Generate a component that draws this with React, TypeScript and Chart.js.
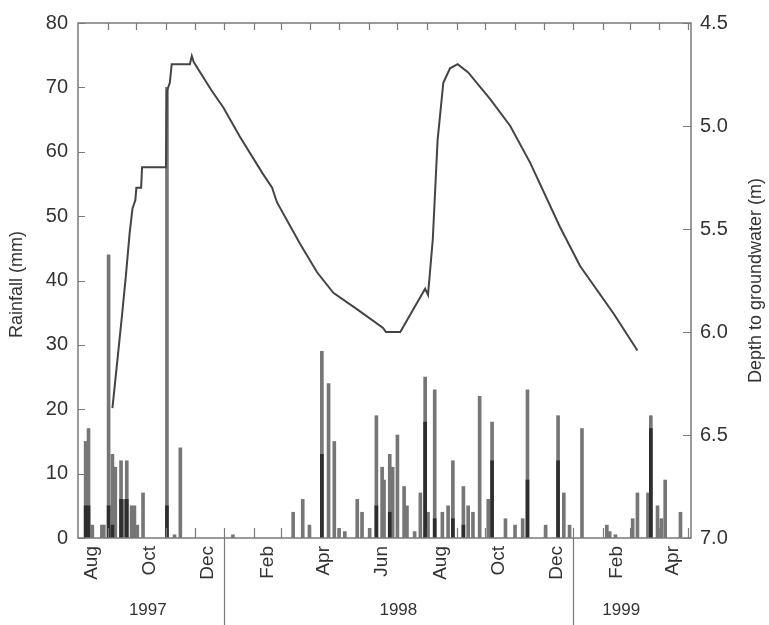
import React, { useEffect, useRef } from 'react';
import { Chart, registerables } from 'chart.js';

Chart.register(...registerables);

// ---- axis range & labels ----
const START = '1997-08-01';
const END = '1999-05-04';

const monthLabels = ['Aug', 'Oct', 'Dec', 'Feb', 'Apr', 'Jun', 'Aug', 'Oct', 'Dec', 'Feb', 'Apr'];
const monthLabelDates = [
  '1997-08-15', '1997-10-15', '1997-12-15', '1998-02-15', '1998-04-15', '1998-06-15',
  '1998-08-15', '1998-10-15', '1998-12-15', '1999-02-15', '1999-04-15',
];
const yearLabels = ['1997', '1998', '1999'];
const yearLabelDates = ['1997-10-13', '1998-07-02', '1999-02-20'];
const yearBreakDates = ['1998-01-01', '1999-01-01'];

// ---- daily rainfall (mm) ----
const rainDates = [
  '1997-08-09', '1997-08-12', '1997-08-16', '1997-08-26', '1997-08-28', '1997-09-02', '1997-09-06',
  '1997-09-09', '1997-09-15', '1997-09-18', '1997-09-21', '1997-09-26', '1997-09-29', '1997-10-02',
  '1997-10-08', '1997-11-02', '1997-11-10', '1997-11-16', '1998-01-10', '1998-03-14', '1998-03-24',
  '1998-03-31', '1998-04-13', '1998-04-20', '1998-04-26', '1998-05-01', '1998-05-07', '1998-05-20',
  '1998-05-25', '1998-06-02', '1998-06-09', '1998-06-15', '1998-06-17', '1998-06-23', '1998-06-26',
  '1998-07-01', '1998-07-08', '1998-07-11', '1998-07-19', '1998-07-25', '1998-07-30', '1998-08-02',
  '1998-08-09', '1998-08-17', '1998-08-23', '1998-08-28', '1998-09-08', '1998-09-13', '1998-09-18',
  '1998-09-25', '1998-10-04', '1998-10-08', '1998-10-22', '1998-11-01', '1998-11-09', '1998-11-14',
  '1998-12-03', '1998-12-16', '1998-12-22', '1998-12-28', '1999-01-10', '1999-02-05', '1999-02-08',
  '1999-02-14', '1999-03-04', '1999-03-09', '1999-03-20', '1999-03-23', '1999-03-30', '1999-04-03',
  '1999-04-07', '1999-04-23',
];
const rainMm = [
  15, 17, 2, 2, 2, 44, 13,
  11, 12, 6, 12, 5, 5, 2,
  7, 70, 0.5, 14, 0.5, 4, 6,
  2, 29, 24, 15, 1.5, 1, 6,
  4, 1.5, 19, 11, 9, 13, 11,
  16, 8, 5, 1, 7, 25, 4,
  23, 4, 5, 12, 8, 5, 4,
  22, 6, 18, 3, 2, 3, 23,
  2, 19, 7, 2, 17, 2, 1,
  0.5, 3, 7, 7, 19, 5, 3,
  9, 4,
];

// darker lower part of the rainfall bars
const rainDarkDates = [
  '1997-08-09', '1997-08-12', '1997-09-02', '1997-09-06', '1997-09-15', '1997-09-21', '1997-11-02',
  '1998-04-13', '1998-06-09', '1998-06-23', '1998-07-30', '1998-08-09', '1998-08-28', '1998-09-08',
  '1998-10-08', '1998-11-14', '1998-12-16', '1999-03-23',
];
const rainDarkMm = [
  5, 5, 5, 2, 6, 6, 5,
  13, 5, 4, 18, 3, 3, 2,
  12, 9, 12, 17,
];

// ---- depth to groundwater (m) ----
const depthDates = [
  '1997-09-06', '1997-09-16', '1997-09-20', '1997-09-24', '1997-09-27', '1997-09-30', '1997-10-01',
  '1997-10-06', '1997-10-07', '1997-11-01', '1997-11-02', '1997-11-05', '1997-11-07', '1997-11-26',
  '1997-11-28', '1997-11-30', '1997-12-19', '1997-12-31', '1998-01-17', '1998-02-10', '1998-02-20',
  '1998-02-25', '1998-03-21', '1998-04-08', '1998-04-25', '1998-05-20', '1998-06-16', '1998-06-19',
  '1998-07-04', '1998-07-30', '1998-08-02', '1998-08-07', '1998-08-12', '1998-08-18', '1998-08-25',
  '1998-09-02', '1998-09-13', '1998-10-06', '1998-10-27', '1998-11-17', '1998-12-18', '1999-01-08',
  '1999-02-12', '1999-03-09',
];
const depthM = [
  6.37, 5.92, 5.73, 5.52, 5.40, 5.36, 5.30,
  5.30, 5.20, 5.20, 4.83, 4.79, 4.70, 4.70,
  4.66, 4.69, 4.83, 4.91, 5.05, 5.23, 5.30,
  5.37, 5.57, 5.71, 5.81, 5.89, 5.98, 6.00,
  6.00, 5.79, 5.82, 5.55, 5.07, 4.79, 4.72,
  4.70, 4.74, 4.87, 5.00, 5.18, 5.49, 5.68,
  5.91, 6.09,
];

const FONT = "'Liberation Sans', Arial, Helvetica, sans-serif";
const TEXT = '#333333';
const AXIS = '#7a7a7a';

const ms = (s: string) => Date.parse(s.length === 10 ? s + 'T00:00:00Z' : s + 'Z');
const toDay = (s: string) => (ms(s) - ms(START)) / 86400000;

function monthStarts(): number[] {
  const out: number[] = [];
  const s = ms(START);
  const e = ms(END);
  for (let k = 1; k < 40; k++) {
    const t = Date.UTC(1997, 7 + k, 1);
    if (t >= e) break;
    if (t > s) out.push((t - s) / 86400000);
  }
  return out;
}

const decorPlugin = {
  id: 'decor',
  afterDatasetsDraw(chart: any) {
    const { ctx, chartArea, scales } = chart;
    const { left, right, top, bottom } = chartArea;
    const x = scales.x;
    const yR = scales.yRain;
    const yD = scales.yDepth;
    ctx.save();
    ctx.strokeStyle = AXIS;
    ctx.lineWidth = 1.5;
    ctx.strokeRect(left, top, right - left, bottom - top);

    ctx.lineWidth = 1.2;
    ctx.beginPath();
    for (const d of monthStarts()) {
      const px = Math.round(x.getPixelForValue(d)) + 0.5;
      ctx.moveTo(px, top);
      ctx.lineTo(px, top + 7);
      ctx.moveTo(px, bottom);
      ctx.lineTo(px, bottom - 10);
    }
    for (const t of yR.ticks) {
      const py = Math.round(yR.getPixelForValue(t.value)) + 0.5;
      ctx.moveTo(left, py);
      ctx.lineTo(left + 7, py);
    }
    for (const t of yD.ticks) {
      const py = Math.round(yD.getPixelForValue(t.value)) + 0.5;
      ctx.moveTo(right, py);
      ctx.lineTo(right - 8, py);
    }
    for (const d of yearBreakDates) {
      const px = Math.round(x.getPixelForValue(toDay(d))) + 0.5;
      ctx.moveTo(px, bottom);
      ctx.lineTo(px, chart.height);
    }
    ctx.stroke();

    ctx.fillStyle = TEXT;
    ctx.font = `17px ${FONT}`;
    ctx.textAlign = 'center';
    ctx.textBaseline = 'middle';
    yearLabels.forEach((lab, i) => {
      ctx.fillText(lab, x.getPixelForValue(toDay(yearLabelDates[i])), 610);
    });

    ctx.font = `18px ${FONT}`;
    const midY = (top + bottom) / 2;
    ctx.save();
    ctx.translate(17, midY + 4);
    ctx.rotate(-Math.PI / 2);
    ctx.fillText('Rainfall (mm)', 0, 0);
    ctx.restore();
    ctx.save();
    ctx.translate(756, midY);
    ctx.rotate(-Math.PI / 2);
    ctx.fillText('Depth to groundwater (m)', 0, 0);
    ctx.restore();

    ctx.restore();
  },
};

export default function App() {
  const ref = useRef<HTMLCanvasElement>(null);
  useEffect(() => {
    if (!ref.current) return;
    const chart = new Chart(ref.current, {
      type: 'bar',
      data: {
        datasets: [
          {
            type: 'line',
            label: 'Depth to groundwater',
            data: depthDates.map((d, i) => ({ x: toDay(d), y: depthM[i] })),
            yAxisID: 'yDepth',
            xAxisID: 'x',
            borderColor: '#444444',
            borderWidth: 2,
            pointRadius: 0,
            tension: 0,
            order: 0,
          } as any,
          {
            type: 'bar',
            label: 'Rainfall (dark)',
            data: rainDarkDates.map((d, i) => ({ x: toDay(d), y: rainDarkMm[i] })),
            yAxisID: 'yRain',
            xAxisID: 'x',
            backgroundColor: '#2e2e2e',
            barThickness: 3,
            grouped: false,
            order: 1,
          } as any,
          {
            type: 'bar',
            label: 'Rainfall',
            data: rainDates.map((d, i) => ({ x: toDay(d), y: rainMm[i] })),
            yAxisID: 'yRain',
            xAxisID: 'x',
            backgroundColor: '#767676',
            barThickness: 3,
            grouped: false,
            order: 2,
          } as any,
        ],
      },
      options: {
        responsive: true,
        maintainAspectRatio: false,
        animation: false,
        layout: { padding: { top: 23, left: 0, right: 0, bottom: 0 } },
        plugins: { legend: { display: false }, tooltip: { enabled: false } },
        scales: {
          x: {
            type: 'linear',
            position: 'bottom',
            offset: false,
            min: 0,
            max: toDay(END),
            grid: { display: false, drawTicks: false, offset: false },
            border: { display: false },
            afterBuildTicks: (s: any) => {
              s.ticks = monthLabelDates.map((d) => ({ value: toDay(d) }));
            },
            afterFit: (s: any) => {
              s.height = 87;
            },
            ticks: {
              autoSkip: false,
              minRotation: 90,
              maxRotation: 90,
              padding: 8,
              color: TEXT,
              font: { size: 19, family: FONT },
              callback: (_v: any, i: number) => monthLabels[i],
            },
          },
          yRain: {
            type: 'linear',
            position: 'left',
            min: 0,
            max: 80,
            grid: { display: false, drawTicks: false },
            border: { display: false },
            afterFit: (s: any) => {
              s.width = 78;
            },
            ticks: { stepSize: 10, padding: 10, color: TEXT, font: { size: 20, family: FONT } },
          },
          yDepth: {
            type: 'linear',
            position: 'right',
            min: 4.5,
            max: 7.0,
            reverse: true,
            grid: { display: false, drawTicks: false },
            border: { display: false },
            afterFit: (s: any) => {
              s.width = 78;
            },
            ticks: {
              stepSize: 0.5,
              padding: 9,
              color: TEXT,
              font: { size: 20, family: FONT },
              callback: (v: any) => Number(v).toFixed(1),
            },
          },
        },
      } as any,
      plugins: [decorPlugin],
    });
    return () => chart.destroy();
  }, []);
  return (
    <div style={{ position: 'absolute', left: 0, top: 0, width: 769, height: 625, background: '#fff' }}>
      <canvas ref={ref} />
    </div>
  );
}
